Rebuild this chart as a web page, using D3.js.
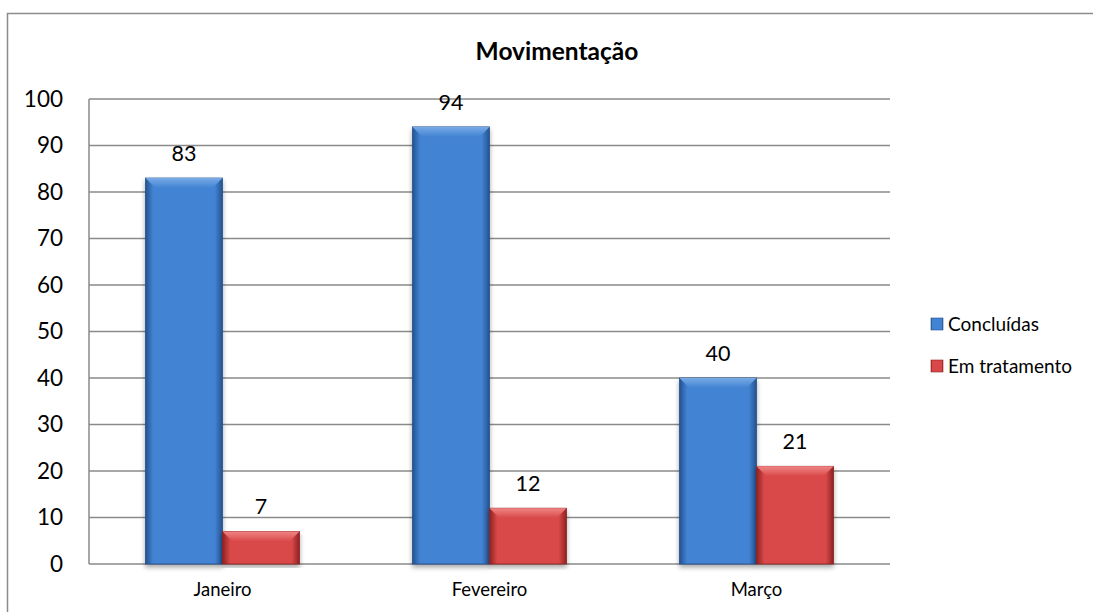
<!DOCTYPE html>
<html><head><meta charset="utf-8">
<script src="https://cdn.jsdelivr.net/npm/d3@7"></script>
<style>body{margin:0;background:#fff}svg{display:block}text{font-family:Lato,"Open Sans",sans-serif}</style>
</head><body><svg id="c" width="1093" height="612"></svg>
<script>
const categories = ["Janeiro","Fevereiro","Março"];
const seriesNames = ["Concluídas","Em tratamento"];
const concluidas = [83,94,40];
const emTratamento = [7,12,21];
const yTicks = [0,10,20,30,40,50,60,70,80,90,100];
const title = "Movimentação";

const svg = d3.select("#c");
const W=1093,H=612;
const m={left:89,top:99,right:890,bottom:564};
svg.append("rect").attr("x",7.5).attr("y",13.5).attr("width",W).attr("height",H).attr("fill","#fff").attr("stroke","#8c8c8c").attr("stroke-width",1.5);

const defs=svg.append("defs");
const pal=[{id:"b",edge:"#24528f",mid:"#4283d3",top:"#78aae6"},{id:"r",edge:"#8e2222",mid:"#d94848",top:"#f08585"}];
pal.forEach(p=>{
  const g=defs.append("linearGradient").attr("id","g"+p.id).attr("x1",0).attr("x2",1).attr("y1",0).attr("y2",0);
  g.append("stop").attr("offset","0").attr("stop-color",p.edge);
  g.append("stop").attr("offset","0.1").attr("stop-color",p.mid);
  g.append("stop").attr("offset","0.9").attr("stop-color",p.mid);
  g.append("stop").attr("offset","1").attr("stop-color",p.edge);
  const t=defs.append("linearGradient").attr("id","t"+p.id).attr("x1",0).attr("x2",0).attr("y1",0).attr("y2",1);
  t.append("stop").attr("offset","0").attr("stop-color",p.top);
  t.append("stop").attr("offset","1").attr("stop-color",p.mid);
});
const f=defs.append("filter").attr("id","sh").attr("x","-20%").attr("y","-5%").attr("width","140%").attr("height","115%");
f.append("feGaussianBlur").attr("in","SourceAlpha").attr("stdDeviation",2.5);
f.append("feOffset").attr("dx",0).attr("dy",3).attr("result","o");
const fc=f.append("feComponentTransfer"); fc.append("feFuncA").attr("type","linear").attr("slope",0.35);
const fm=f.append("feMerge"); fm.append("feMergeNode"); fm.append("feMergeNode").attr("in","SourceGraphic");

const y=d3.scaleLinear().domain([0,100]).range([m.bottom,m.top]);
const x=d3.scaleBand().domain(categories).range([m.left,m.right]).paddingInner(0.423).paddingOuter(0.2115);
const xs=d3.scaleBand().domain(seriesNames).range([0,x.bandwidth()]);

// gridlines
svg.append("g").selectAll("line").data(yTicks).join("line")
  .attr("x1",m.left).attr("x2",m.right).attr("y1",d=>y(d)).attr("y2",d=>y(d))
  .attr("stroke","#8a8a8a").attr("stroke-width",1.5);
svg.append("line").attr("x1",m.left).attr("x2",m.left).attr("y1",m.top).attr("y2",m.bottom).attr("stroke","#8a8a8a").attr("stroke-width",1.5);

// y axis labels
const ya=svg.append("g").attr("transform",`translate(${m.left-26},0)`).call(d3.axisLeft(y).tickValues(yTicks).tickSize(0).tickPadding(0));
ya.select(".domain").remove();
ya.selectAll("text").attr("font-size",22.5).attr("fill","#000").attr("font-family","Lato,sans-serif");

// x axis labels
const xa=svg.append("g").attr("transform",`translate(0,${m.bottom})`).call(d3.axisBottom(x).tickSize(0).tickPadding(19));
xa.select(".domain").remove();
xa.selectAll("text").attr("font-size",18.5).attr("fill","#000").attr("font-family","Lato,sans-serif");

const data=[];
categories.forEach((c,i)=>{data.push({c,s:0,v:concluidas[i]});data.push({c,s:1,v:emTratamento[i]});});

const bars=svg.append("g").selectAll("g").data(data).join("g").attr("filter","url(#sh)");
bars.each(function(d){
  const g=d3.select(this);
  const p=pal[d.s];
  const x0=x(d.c)+xs(seriesNames[d.s]), w=xs.bandwidth(), y0=y(d.v), h=y(0)-y(d.v);
  const b=Math.min(10,h/2);
  g.append("rect").attr("x",x0).attr("y",y0).attr("width",w).attr("height",h).attr("fill",`url(#g${p.id})`).attr("stroke",p.edge).attr("stroke-width",0.8);
  g.append("path").attr("d",`M${x0},${y0}L${x0+w},${y0}L${x0+w-b},${y0+b}L${x0+b},${y0+b}Z`).attr("fill",`url(#t${p.id})`);
});

// data labels
svg.append("g").selectAll("text").data(data).join("text")
  .attr("x",d=>x(d.c)+xs(seriesNames[d.s])+xs.bandwidth()/2)
  .attr("y",d=>y(d.v)-17).attr("text-anchor","middle").attr("font-size",21.5).attr("fill","#000").text(d=>d.v);

// title
svg.append("text").attr("x",557).attr("y",60).attr("text-anchor","middle").attr("font-size",24.5).attr("font-weight","bold").text(title);

// legend
const lg=svg.append("g").selectAll("g").data(seriesNames).join("g").attr("transform",(d,i)=>`translate(931,${318+i*42})`);
lg.append("rect").attr("width",12).attr("height",12).attr("fill",(d,i)=>`url(#g${pal[i].id})`).attr("stroke",(d,i)=>pal[i].edge).attr("stroke-width",0.6);
lg.append("text").attr("x",17).attr("y",12.5).attr("font-size",19).text(d=>d);
</script></body></html>
